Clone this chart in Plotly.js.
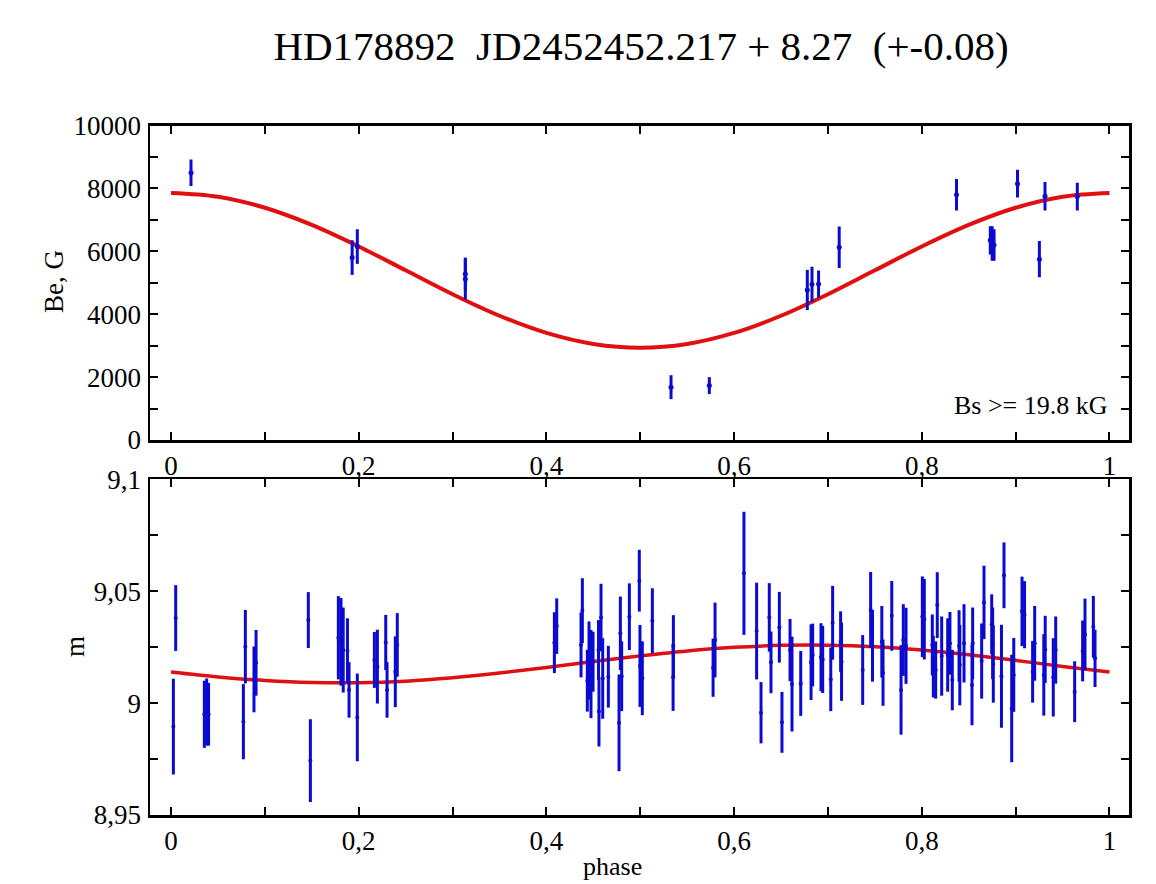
<!DOCTYPE html>
<html>
<head>
<meta charset="utf-8">
<script src="https://cdn.plot.ly/plotly-3.0.1.min.js"></script>
<style>html,body{margin:0;padding:0;background:#fff;}#chart{width:1156px;height:884px;}</style>
</head>
<body>
<div id="chart"></div>
<script>
// ---- Data ----
const titleText = 'HD178892  JD2452452.217 + 8.27  (+-0.08)';
const beLabel = 'Be, G';
const mLabel = 'm';
const xLabel = 'phase';
const noteText = 'Bs >= 19.8 kG';

const phaseTicks = [0, 0.1, 0.2, 0.3, 0.4, 0.5, 0.6, 0.7, 0.8, 0.9, 1];
const phaseTickText = ['0', '', '0,2', '', '0,4', '', '0,6', '', '0,8', '', '1'];
const beTicks = [0, 1000, 2000, 3000, 4000, 5000, 6000, 7000, 8000, 9000, 10000];
const beTickText = ['0', '', '2000', '', '4000', '', '6000', '', '8000', '', '10000'];
const mTicks = [8.95, 8.975, 9.0, 9.025, 9.05, 9.075, 9.1];
const mTickText = ['8,95', '', '9', '', '9,05', '', '9,1'];

// Magnetic field measurements
const bePhase = [0.0213, 0.193, 0.1985, 0.3136, 0.3136, 0.5328, 0.5736, 0.678, 0.683, 0.690, 0.712, 0.837, 0.873, 0.875, 0.877, 0.902, 0.9253, 0.9313, 0.9657];
const beValue = [8500, 5800, 6150, 5280, 5120, 1680, 1730, 4770, 4950, 4960, 6130, 7800, 6350, 6250, 6200, 8150, 5750, 7750, 7740];
const beError = [420, 550, 550, 520, 650, 380, 270, 640, 560, 430, 660, 500, 450, 550, 500, 440, 575, 450, 440];

// Fitted Be curve
const fitPhase = [0, 0.05, 0.1, 0.15, 0.2, 0.25, 0.3, 0.35, 0.4, 0.45, 0.5, 0.55, 0.6, 0.65, 0.7, 0.75, 0.8, 0.85, 0.9, 0.95, 1];
const beFit = [7855, 7735, 7385, 6840, 6155, 5395, 4635, 3950, 3405, 3055, 2935, 3055, 3405, 3950, 4635, 5395, 6155, 6840, 7385, 7735, 7855];

// Photometry
const mPhase = [
  0.005, 0.0025, 0.0355, 0.038, 0.040, 0.0792, 0.0771, 0.0884, 0.0906, 0.1463, 0.1485, 0.1783, 0.1811, 0.1835, 0.188, 0.1897, 0.1985, 0.2167, 0.2199, 0.2288, 0.2302, 0.239, 0.2411,
  0.4085, 0.411, 0.4383, 0.4369, 0.4436, 0.4454, 0.4475, 0.4497, 0.456, 0.4555, 0.4582, 0.460, 0.466, 0.4774, 0.4788, 0.4802, 0.4884, 0.499, 0.4997, 0.5022, 0.5129, 0.5353, 0.535,
  0.5776, 0.5797, 0.6105, 0.624, 0.6287, 0.6375, 0.6393, 0.6482, 0.651, 0.6596, 0.6617, 0.671, 0.682, 0.6837, 0.6926, 0.6944, 0.703, 0.705, 0.7135, 0.7145, 0.737, 0.7455, 0.7475, 0.7574, 0.7587, 0.768, 0.7779, 0.7803, 0.7832, 0.8006, 0.8027,
  0.8112, 0.8123, 0.8148, 0.8165, 0.8212, 0.8276, 0.83, 0.8325, 0.8397, 0.8405, 0.845, 0.8542, 0.8535, 0.8638, 0.8663, 0.8745, 0.8755, 0.8762, 0.8849, 0.8876, 0.8958, 0.898, 0.9068, 0.9095, 0.9181, 0.9203, 0.93, 0.9315, 0.9401, 0.9427, 0.9629, 0.9714, 0.9739, 0.9828, 0.9846
];
const mValue = [
  9.038, 8.9895, 8.995, 8.996, 8.995, 9.0252, 8.9917, 9.0106, 9.018, 9.0371, 8.9743, 9.0292, 9.0274, 9.0237, 9.0234, 9.0059, 8.9936, 9.0193, 9.0163, 9.0271, 9.0059, 9.014, 9.026,
  9.027, 9.0344, 9.0413, 9.026, 9.010, 9.019, 9.013, 9.0185, 8.9962, 9.0237, 9.0382, 9.011, 9.0118, 8.9912, 9.0312, 9.012, 9.0386, 9.0547, 9.0166, 9.0111, 9.0368, 9.0255, 9.0115,
  9.0158, 9.0282, 9.058, 9.0322, 8.9957, 9.0383, 9.0182, 9.0339, 8.9914, 9.0237, 9.0085, 9.0088, 9.0183, 9.0215, 9.0205, 9.0195, 9.0106, 9.0359, 9.0275, 9.0185, 9.0148, 9.0416, 9.0256, 9.0274, 9.0136, 9.039, 9.0059, 9.0282, 9.0256, 9.0386, 9.0375,
  9.026, 9.0163, 9.0148, 9.0438, 9.021, 9.0215, 9.0267, 9.0103, 9.0255, 9.017, 9.0267, 9.0267, 9.0081, 9.0188, 9.045, 9.0352, 9.0267, 9.0175, 9.012, 9.0571, 8.9976, 9.0126, 9.041, 9.0395, 9.014, 9.0267, 9.0126, 9.024, 9.0115, 9.0237, 9.0051, 9.0233, 9.0307, 9.0341, 9.02
];
const mError = [
  0.0147, 0.0214, 0.015, 0.015, 0.014, 0.0164, 0.0168, 0.0147, 0.0147, 0.0125, 0.0185, 0.0186, 0.0196, 0.019, 0.0145, 0.0124, 0.0196, 0.0125, 0.0165, 0.0123, 0.0124, 0.0158, 0.0142,
  0.0136, 0.0124, 0.0145, 0.0145, 0.0138, 0.0175, 0.0197, 0.0134, 0.0156, 0.0134, 0.0151, 0.018, 0.0138, 0.0216, 0.0164, 0.0156, 0.0149, 0.0138, 0.0183, 0.0165, 0.0145, 0.0138, 0.015,
  0.013, 0.0167, 0.0275, 0.0216, 0.0137, 0.0153, 0.0138, 0.0158, 0.0136, 0.0139, 0.0212, 0.0145, 0.0169, 0.014, 0.0152, 0.015, 0.0142, 0.0165, 0.0135, 0.0175, 0.0156, 0.017, 0.016, 0.016, 0.0148, 0.0156, 0.02, 0.016, 0.017, 0.018, 0.018,
  0.0136, 0.0138, 0.0128, 0.0147, 0.0177, 0.0164, 0.014, 0.0135, 0.016, 0.018, 0.0175, 0.016, 0.018, 0.0168, 0.0164, 0.0134, 0.016, 0.0173, 0.023, 0.0147, 0.024, 0.0165, 0.0155, 0.015, 0.0138, 0.0167, 0.0182, 0.015, 0.0175, 0.015, 0.0136, 0.0136, 0.016, 0.0138, 0.0128
];

// Fitted light curve
const mFit = [9.0139, 9.0117, 9.0101, 9.0092, 9.0091, 9.0098, 9.0113, 9.0134, 9.0159, 9.0186, 9.0211, 9.0233, 9.0249, 9.0258, 9.0259, 9.0252, 9.0237, 9.0216, 9.0191, 9.0164, 9.0139];

// ---- Figure ----
const W = 1156, H = 884;
const px = v => v / W;
const py = v => 1 - v / H;
const FONT = 'Liberation Serif';
const BLUE = '#0a0ad2';
const RED = '#e01010';

const traces = [
  {x: fitPhase, y: beFit, xaxis: 'x', yaxis: 'y', type: 'scatter', mode: 'lines',
   line: {color: RED, width: 4, shape: 'spline'}, hoverinfo: 'skip'},
  {x: bePhase, y: beValue, xaxis: 'x', yaxis: 'y', type: 'scatter', mode: 'markers',
   marker: {color: BLUE, size: 5},
   error_y: {type: 'data', array: beError, visible: true, color: BLUE, thickness: 3, width: 0}},
  {x: fitPhase, y: mFit, xaxis: 'x2', yaxis: 'y2', type: 'scatter', mode: 'lines',
   line: {color: RED, width: 3.5, shape: 'spline'}, hoverinfo: 'skip'},
  {x: mPhase, y: mValue, xaxis: 'x2', yaxis: 'y2', type: 'scatter', mode: 'markers',
   marker: {color: BLUE, size: 4},
   error_y: {type: 'data', array: mError, visible: true, color: BLUE, thickness: 3, width: 0}}
];

const axisCommon = {
  showgrid: false, zeroline: false, showline: true, linecolor: '#000', linewidth: 2.5,
  mirror: 'allticks', ticks: 'inside', ticklen: 8, tickwidth: 2, tickcolor: '#000',
  tickfont: {family: FONT, size: 27, color: '#000'}, fixedrange: true
};

const xDom = [px(150), px(1129)];
const layout = {
  width: W, height: H,
  margin: {l: 0, r: 0, t: 0, b: 0, pad: 0},
  paper_bgcolor: '#fff', plot_bgcolor: '#fff',
  showlegend: false,
  font: {family: FONT, color: '#000'},
  title: {text: titleText, font: {family: FONT, size: 41, color: '#000'},
          x: px(641), xref: 'paper', xanchor: 'center', y: py(46), yref: 'container', yanchor: 'middle'},
  xaxis: Object.assign({}, axisCommon, {domain: xDom, anchor: 'y', range: [-0.0224, 1.0208],
          tickmode: 'array', tickvals: phaseTicks, ticktext: phaseTickText, ticklabelstandoff: 0}),
  yaxis: Object.assign({}, axisCommon, {domain: [py(440), py(125.5)], anchor: 'x', range: [0, 10000],
          tickmode: 'array', tickvals: beTicks, ticktext: beTickText, ticklabelstandoff: 1}),
  xaxis2: Object.assign({}, axisCommon, {domain: xDom, anchor: 'y2', range: [-0.0224, 1.0208],
          tickmode: 'array', tickvals: phaseTicks, ticktext: phaseTickText, ticklabelstandoff: 0}),
  yaxis2: Object.assign({}, axisCommon, {domain: [py(815), py(479.3)], anchor: 'x2', range: [8.95, 9.1],
          tickmode: 'array', tickvals: mTicks, ticktext: mTickText, ticklabelstandoff: 1}),
  annotations: [
    {text: beLabel, xref: 'paper', yref: 'paper', x: px(54), y: py(282), textangle: -90,
     showarrow: false, xanchor: 'center', yanchor: 'middle', font: {family: FONT, size: 27, color: '#000'}},
    {text: mLabel, xref: 'paper', yref: 'paper', x: px(75), y: py(647), textangle: -90,
     showarrow: false, xanchor: 'center', yanchor: 'middle', font: {family: FONT, size: 27, color: '#000'}},
    {text: xLabel, xref: 'paper', yref: 'paper', x: px(612), y: py(866),
     showarrow: false, xanchor: 'center', yanchor: 'middle', font: {family: FONT, size: 26, color: '#000'}},
    {text: noteText, xref: 'paper', yref: 'paper', x: px(1110), y: py(406),
     showarrow: false, xanchor: 'right', yanchor: 'middle', font: {family: FONT, size: 26, color: '#000'}}
  ]
};

Plotly.newPlot('chart', traces, layout, {displayModeBar: false, staticPlot: true});
</script>
</body>
</html>
